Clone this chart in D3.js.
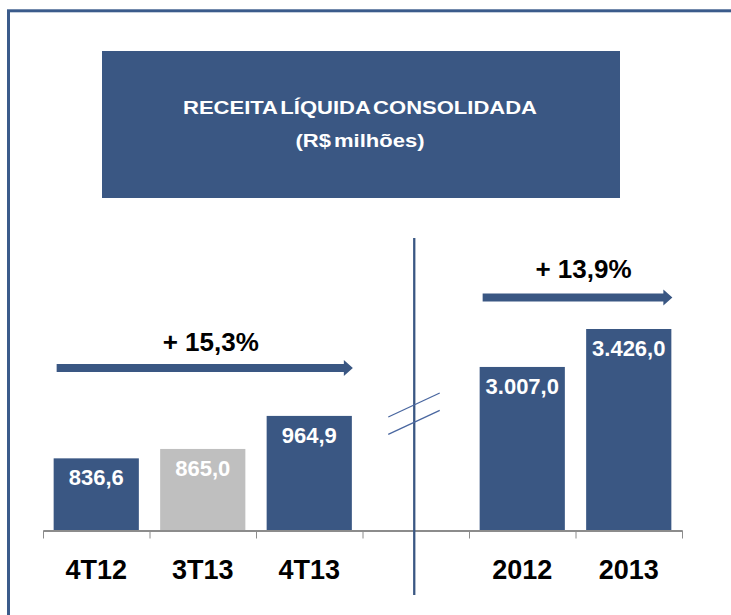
<!DOCTYPE html>
<meta charset="utf-8">
<style>
body {
  margin: 0;
  background: #fff;
}
svg text {
  font-family: "Liberation Sans", Arial, sans-serif;
  font-weight: bold;
}
.axis path, .axis line {
  stroke: #8c8c8c;
}
</style>
<body>
<svg width="731" height="615"></svg>
<script src="https://d3js.org/d3.v7.min.js"></script>
<script>
// quarterly values
var quarters = ["4T12", "3T13", "4T13"];
var quarterValues = [836.6, 865.0, 964.9];
var quarterLabels = ["836,6", "865,0", "964,9"];
var quarterGrowth = "+ 15,3%";

// yearly values
var years = ["2012", "2013"];
var yearValues = [3007.0, 3426.0];
var yearLabels = ["3.007,0", "3.426,0"];
var yearGrowth = "+ 13,9%";

var titleLines = ["RECEITA LÍQUIDA CONSOLIDADA", "(R$ milhões)"];

var blue = "#3a5783",
    grey = "#bfbfbf";

var svg = d3.select("svg");

// outer frame (runs off the page right and bottom)
svg.append("rect")
    .attr("x", 8.5).attr("y", 10.8)
    .attr("width", 800).attr("height", 700)
    .attr("fill", "none")
    .attr("stroke", "#3b5b8b")
    .attr("stroke-width", 3);

// title box
svg.append("rect")
    .attr("x", 102).attr("y", 51)
    .attr("width", 518).attr("height", 147)
    .attr("fill", blue);

// title is drawn a bit stretched sideways, like the original slide
titleLines.forEach(function(t, i) {
  svg.append("text")
      .attr("transform", "translate(360," + (i == 0 ? 114 : 147) + ") scale(1.19,1)")
      .attr("text-anchor", "middle")
      .attr("fill", "#fff")
      .style("font-size", "18.5px")
      .style("word-spacing", "-2.5px")
      .text(t);
});

// scales
var cats = quarters.concat([" "], years);
var x = d3.scaleBand()
    .domain(cats)
    .range([43, 682])
    .paddingInner(0.2)
    .paddingOuter(0.1);

var edges = d3.scaleLinear().domain([0, cats.length]).range([43, 682]);

// broken axis: quarters and years on their own scales
var yQ = d3.scaleLinear().domain([620, 1000]).range([530, 404.3]);
var yA = d3.scaleLinear().domain([1207, 3426]).range([530, 329]);

var qData = quarters.map(function(q, i) {
  return {cat: q, value: quarterValues[i], label: quarterLabels[i], y: yQ, color: i == 1 ? grey : blue};
});
var aData = years.map(function(q, i) {
  return {cat: q, value: yearValues[i], label: yearLabels[i], y: yA, color: blue};
});
var all = qData.concat(aData);

// bars
svg.selectAll(".bar")
    .data(all)
  .enter().append("rect")
    .attr("class", "bar")
    .attr("x", function(d) { return x(d.cat); })
    .attr("y", function(d) { return d.y(d.value); })
    .attr("width", x.bandwidth())
    .attr("height", function(d) { return 530 - d.y(d.value); })
    .attr("fill", function(d) { return d.color; });

svg.selectAll(".lbl")
    .data(all)
  .enter().append("text")
    .attr("class", "lbl")
    .attr("x", function(d) { return x(d.cat) + x.bandwidth() / 2; })
    .attr("y", function(d) { return d.y(d.value) + 27; })
    .attr("text-anchor", "middle")
    .attr("fill", "#fff")
    .style("font-size", "22px")
    .text(function(d) { return d.label; });

// x axis with ticks on band boundaries
svg.append("g")
    .attr("class", "axis")
    .attr("transform", "translate(0,530.5)")
    .call(d3.axisBottom(edges).ticks(cats.length).tickSize(8).tickSizeOuter(0).tickFormat(""))
    .call(function(g) { g.select(".domain").attr("stroke-width", 2); });

svg.selectAll(".cat")
    .data(cats)
  .enter().append("text")
    .attr("class", "cat")
    .attr("x", function(d) { return x(d) + x.bandwidth() / 2; })
    .attr("y", 579)
    .attr("text-anchor", "middle")
    .attr("fill", "#000")
    .style("font-size", "27px")
    .text(function(d) { return d.trim(); });

// divider and break marks
var xm = x(" ") + x.bandwidth() / 2 - 1.5;
svg.append("line")
    .attr("x1", xm).attr("x2", xm)
    .attr("y1", 238).attr("y2", 595)
    .attr("stroke", blue)
    .attr("stroke-width", 2.3);

[417, 434.3].forEach(function(y0) {
  svg.append("line")
      .attr("x1", xm - 26).attr("y1", y0)
      .attr("x2", xm + 25.5).attr("y2", y0 - 24)
      .attr("stroke", "#4a67a0")
      .attr("stroke-width", 1.3);
});

// growth arrows
function arrow(x0, x1, yc, label, ty) {
  var hw = 8, hl = 9, sw = 4;
  svg.append("path")
      .attr("d", "M" + x0 + "," + (yc - sw) + "H" + (x1 - hl) + "V" + (yc - hw) +
                 "L" + x1 + "," + yc + "L" + (x1 - hl) + "," + (yc + hw) +
                 "V" + (yc + sw) + "H" + x0 + "Z")
      .attr("fill", blue);
  svg.append("text")
      .attr("x", (x0 + x1) / 2 + 6)
      .attr("y", ty)
      .attr("text-anchor", "middle")
      .attr("fill", "#000")
      .style("font-size", "26px")
      .text(label);
}

arrow(x(quarters[0]) + 3, x(quarters[2]) + x.bandwidth() + 1, 368, quarterGrowth, 351);
arrow(x(years[0]) + 3, x(years[1]) + x.bandwidth() + 1, 297.5, yearGrowth, 278);
</script>
</body>
